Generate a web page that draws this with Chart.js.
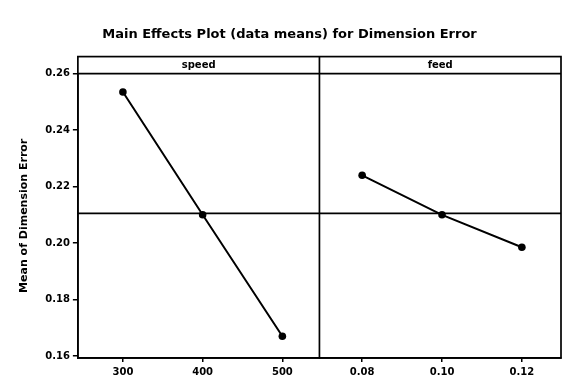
<!DOCTYPE html>
<html>
<head>
<meta charset="utf-8">
<script src="https://cdn.jsdelivr.net/npm/chart.js@4.4.1/dist/chart.umd.min.js"></script>
<style>
  html, body { margin: 0; padding: 0; background: #fff; }
  #wrap { width: 583px; height: 392px; position: relative; }
</style>
</head>
<body>
<div id="wrap"><canvas id="myChart"></canvas></div>
<script>
// factor levels and the mean response at each level
const speedLevels = [300, 400, 500];
const speedMeans = [0.2535, 0.2100, 0.1670];
const feedLevels = [0.08, 0.10, 0.12];
const feedMeans = [0.2240, 0.2100, 0.1985];
const grandMean = 0.2105;

// tick values
const yTicks = [0.16, 0.18, 0.20, 0.22, 0.24, 0.26];
const speedTicks = [300, 400, 500];
const feedTicks = [0.08, 0.10, 0.12];
const panelNames = ['speed', 'feed'];

const FONT = "'DejaVu Sans', Verdana, sans-serif";

function toPoints(xs, ys) {
    return xs.map((x, i) => ({ x: x, y: ys[i] }));
}

// frame, panel divider, strip headers and the grand mean line
const panelFrame = {
    id: 'panelFrame',
    afterDraw(chart) {
        const ctx = chart.ctx;
        const area = chart.chartArea;
        const xs = chart.scales.xSpeed;
        const y = chart.scales.y;
        const stripH = 17;
        const top = area.top - stripH;

        ctx.save();
        ctx.strokeStyle = '#000';
        ctx.lineWidth = 1.7;

        // grand mean
        const ym = y.getPixelForValue(grandMean);
        ctx.beginPath();
        ctx.moveTo(area.left, ym);
        ctx.lineTo(area.right, ym);
        ctx.stroke();

        // outer frame including strip
        ctx.strokeRect(area.left, top, area.right - area.left, area.bottom - top);
        // strip bottom
        ctx.beginPath();
        ctx.moveTo(area.left, area.top);
        ctx.lineTo(area.right, area.top);
        ctx.stroke();
        // divider between panels
        ctx.beginPath();
        ctx.moveTo(xs.right, top);
        ctx.lineTo(xs.right, area.bottom);
        ctx.stroke();

        ctx.fillStyle = '#000';
        ctx.font = 'bold 10px ' + FONT;
        ctx.textAlign = 'center';
        ctx.textBaseline = 'middle';
        ctx.fillText(panelNames[0], (area.left + xs.right) / 2, top + stripH / 2);
        ctx.fillText(panelNames[1], (xs.right + area.right) / 2, top + stripH / 2);
        ctx.restore();
    }
};

function xAxis(ticks, min, max, digits) {
    return {
        type: 'linear',
        position: 'bottom',
        stack: 'panels',
        stackWeight: 1,
        min: min,
        max: max,
        afterBuildTicks: scale => { scale.ticks = ticks.map(v => ({ value: v })); },
        grid: { display: true, drawOnChartArea: false, drawTicks: true, tickLength: 4, color: '#000', lineWidth: 1.5 },
        border: { display: true, color: '#000', width: 1.7 },
        ticks: {
            color: '#000',
            padding: 4,
            maxRotation: 0,
            font: { family: FONT, size: 10, weight: 'bold' },
            callback: v => Number(v).toFixed(digits)
        }
    };
}

const ctx = document.getElementById('myChart').getContext('2d');
const myChart = new Chart(ctx, {
    type: 'line',
    data: {
        datasets: [
            {
                label: 'speed',
                data: toPoints(speedLevels, speedMeans),
                xAxisID: 'xSpeed',
                yAxisID: 'y'
            },
            {
                label: 'feed',
                data: toPoints(feedLevels, feedMeans),
                xAxisID: 'xFeed',
                yAxisID: 'y'
            }
        ]
    },
    options: {
        responsive: true,
        maintainAspectRatio: false,
        animation: false,
        layout: { padding: { left: 18, right: 22, top: 0, bottom: 10 } },
        elements: {
            line: { borderColor: '#000', borderWidth: 2, tension: 0 },
            point: { radius: 3.8, backgroundColor: '#000', borderColor: '#000', borderWidth: 0 }
        },
        scales: {
            xSpeed: xAxis(speedTicks, 243.5, 546.5, 0),
            xFeed: xAxis(feedTicks, 0.0693, 0.1298, 2),
            y: {
                type: 'linear',
                position: 'left',
                min: 0.1593,
                max: 0.26,
                afterBuildTicks: scale => { scale.ticks = yTicks.map(v => ({ value: v })); },
                grid: { display: true, drawOnChartArea: false, drawTicks: true, tickLength: 5, color: '#000', lineWidth: 1.5 },
                border: { display: true, color: '#000', width: 1.7 },
                title: {
                    display: true,
                    text: 'Mean of Dimension Error',
                    color: '#000',
                    padding: { top: 0, bottom: 11 },
                    font: { family: FONT, size: 11, weight: 'bold' }
                },
                ticks: {
                    color: '#000',
                    padding: 3,
                    font: { family: FONT, size: 10, weight: 'bold' },
                    callback: v => Number(v).toFixed(2)
                }
            }
        },
        plugins: {
            legend: { display: false },
            tooltip: { enabled: false },
            title: {
                display: true,
                text: 'Main Effects Plot (data means) for Dimension Error',
                color: '#000',
                font: { family: FONT, size: 13, weight: 'bold' },
                padding: { top: 27, bottom: 31 }
            }
        }
    },
    plugins: [panelFrame]
});
</script>
</body>
</html>
